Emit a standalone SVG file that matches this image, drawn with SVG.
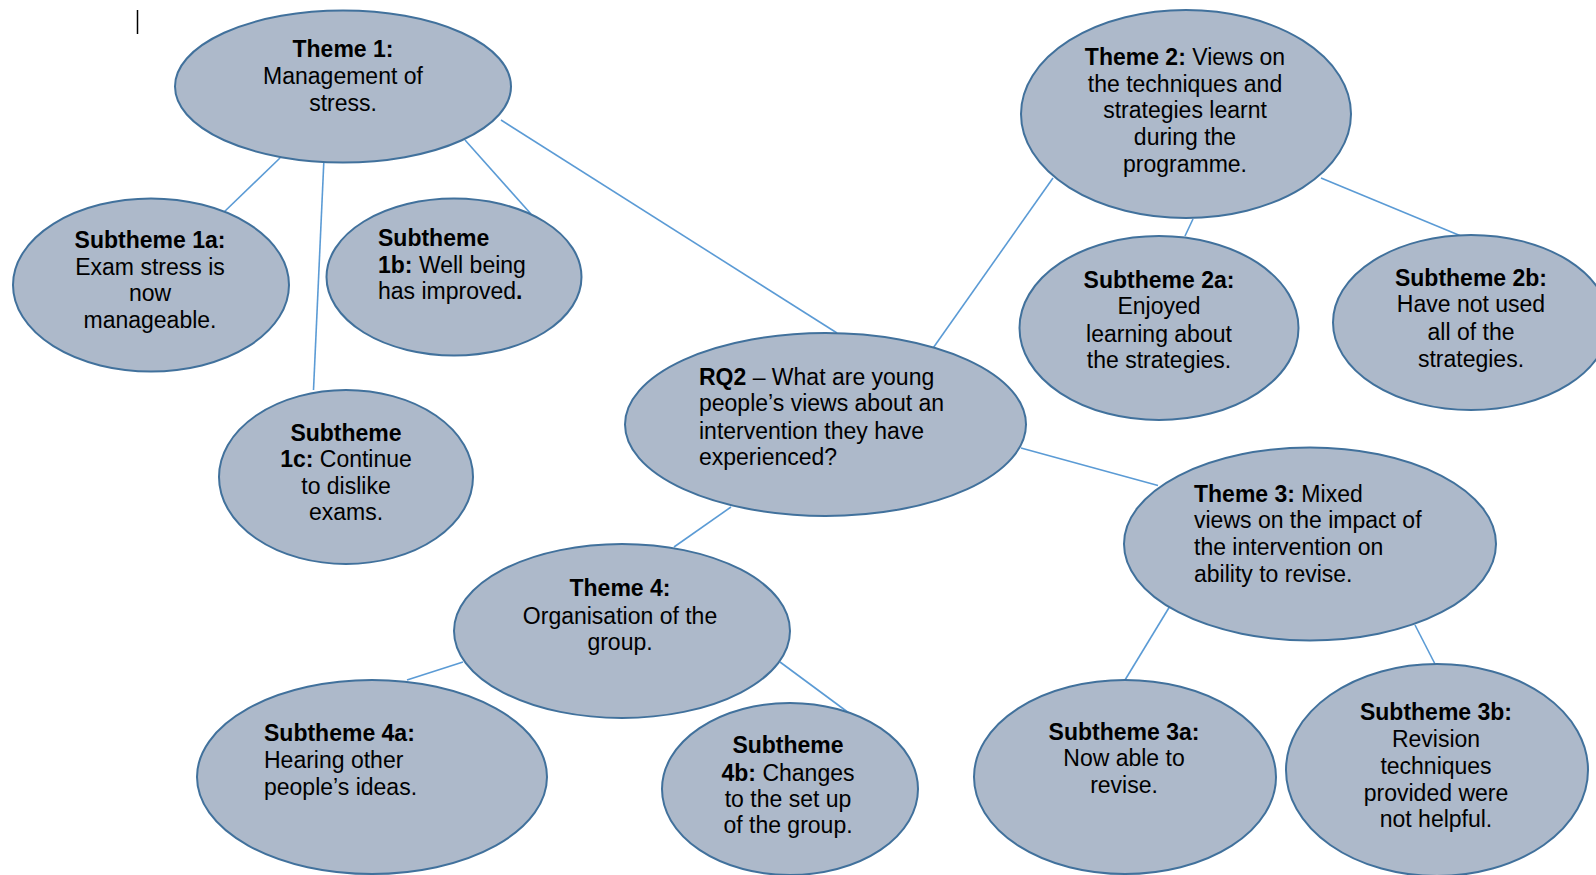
<svg xmlns="http://www.w3.org/2000/svg" width="1596" height="875" viewBox="0 0 1596 875">
<style>
.n{fill:#adb9ca;stroke:#41719c;stroke-width:2}
.c line{stroke:#5b9bd5;stroke-width:1.6}
text{font-family:"Liberation Sans",Arial,sans-serif;font-size:23px;fill:#000}
.m{text-anchor:middle}
.b{font-weight:bold}
</style>
<rect width="1596" height="875" fill="#fff"/>
<line x1="137.5" y1="10" x2="137.5" y2="34" stroke="#000" stroke-width="1.5"/>
<g id="connectors" class="c">
<line x1="280" y1="158" x2="222" y2="214"/>
<line x1="324" y1="158" x2="313.5" y2="390"/>
<line x1="465" y1="140" x2="531" y2="214"/>
<line x1="501" y1="120" x2="837" y2="333"/>
<line x1="1053" y1="178" x2="931" y2="351"/>
<line x1="1193" y1="219" x2="1185" y2="236"/>
<line x1="1321" y1="178" x2="1461" y2="236"/>
<line x1="1021" y1="448" x2="1158" y2="485.5"/>
<line x1="731" y1="507" x2="674" y2="547"/>
<line x1="463" y1="662" x2="407" y2="680"/>
<line x1="780" y1="662" x2="853" y2="716"/>
<line x1="1170" y1="606" x2="1125" y2="680"/>
<line x1="1415" y1="625" x2="1435" y2="664"/>
</g>
<g id="theme1">
<ellipse class="n" cx="343" cy="86.5" rx="168" ry="76"/>
<text class="m" x="343" y="57"><tspan class="b">Theme 1:</tspan></text>
<text class="m" x="343" y="84">Management of</text>
<text class="m" x="343" y="111">stress.</text>
</g>
<g id="sub1a">
<ellipse class="n" cx="151" cy="285" rx="138" ry="86.5"/>
<text class="m" x="150" y="248"><tspan class="b">Subtheme 1a:</tspan></text>
<text class="m" x="150" y="275">Exam stress is</text>
<text class="m" x="150" y="301">now</text>
<text class="m" x="150" y="328">manageable.</text>
</g>
<g id="sub1b">
<ellipse class="n" cx="454" cy="277" rx="127.5" ry="78.5"/>
<text x="378" y="246"><tspan class="b">Subtheme</tspan></text>
<text x="378" y="273"><tspan class="b">1b:</tspan> Well being</text>
<text x="378" y="299">has improved<tspan class="b">.</tspan></text>
</g>
<g id="sub1c">
<ellipse class="n" cx="346" cy="477" rx="127" ry="87"/>
<text class="m" x="346" y="441"><tspan class="b">Subtheme</tspan></text>
<text class="m" x="346" y="467"><tspan class="b">1c:</tspan> Continue</text>
<text class="m" x="346" y="494">to dislike</text>
<text class="m" x="346" y="520">exams.</text>
</g>
<g id="rq2">
<ellipse class="n" cx="825.5" cy="424.5" rx="200.5" ry="91.5"/>
<text x="699" y="385"><tspan class="b">RQ2</tspan> – What are young</text>
<text x="699" y="411">people’s views about an</text>
<text x="699" y="439">intervention they have</text>
<text x="699" y="465">experienced?</text>
</g>
<g id="theme2">
<ellipse class="n" cx="1186" cy="114" rx="165" ry="104"/>
<text class="m" x="1185" y="65"><tspan class="b">Theme 2:</tspan> Views on</text>
<text class="m" x="1185" y="91.5">the techniques and</text>
<text class="m" x="1185" y="118">strategies learnt</text>
<text class="m" x="1185" y="145">during the</text>
<text class="m" x="1185" y="172">programme.</text>
</g>
<g id="sub2a">
<ellipse class="n" cx="1159" cy="328" rx="139.5" ry="92"/>
<text class="m" x="1159" y="288"><tspan class="b">Subtheme 2a:</tspan></text>
<text class="m" x="1159" y="314">Enjoyed</text>
<text class="m" x="1159" y="342">learning about</text>
<text class="m" x="1159" y="368">the strategies.</text>
</g>
<g id="sub2b">
<ellipse class="n" cx="1471" cy="322.5" rx="138" ry="87.5"/>
<text class="m" x="1471" y="286"><tspan class="b">Subtheme 2b:</tspan></text>
<text class="m" x="1471" y="312">Have not used</text>
<text class="m" x="1471" y="340">all of the</text>
<text class="m" x="1471" y="367">strategies.</text>
</g>
<g id="theme3">
<ellipse class="n" cx="1310" cy="544" rx="186" ry="96.5"/>
<text x="1194" y="502"><tspan class="b">Theme 3:</tspan> Mixed</text>
<text x="1194" y="528">views on the impact of</text>
<text x="1194" y="555">the intervention on</text>
<text x="1194" y="582">ability to revise.</text>
</g>
<g id="theme4">
<ellipse class="n" cx="622" cy="631" rx="168" ry="87"/>
<text class="m" x="620" y="596"><tspan class="b">Theme 4:</tspan></text>
<text class="m" x="620" y="624">Organisation of the</text>
<text class="m" x="620" y="650">group.</text>
</g>
<g id="sub4a">
<ellipse class="n" cx="372" cy="777" rx="175" ry="97"/>
<text x="264" y="741"><tspan class="b">Subtheme 4a:</tspan></text>
<text x="264" y="768">Hearing other</text>
<text x="264" y="795">people’s ideas.</text>
</g>
<g id="sub4b">
<ellipse class="n" cx="790" cy="789" rx="128" ry="86"/>
<text class="m" x="788" y="753"><tspan class="b">Subtheme</tspan></text>
<text class="m" x="788" y="781"><tspan class="b">4b:</tspan> Changes</text>
<text class="m" x="788" y="807">to the set up</text>
<text class="m" x="788" y="833">of the group.</text>
</g>
<g id="sub3a">
<ellipse class="n" cx="1125" cy="777" rx="151" ry="97"/>
<text class="m" x="1124" y="740"><tspan class="b">Subtheme 3a:</tspan></text>
<text class="m" x="1124" y="766">Now able to</text>
<text class="m" x="1124" y="793">revise.</text>
</g>
<g id="sub3b">
<ellipse class="n" cx="1437" cy="770" rx="151" ry="106"/>
<text class="m" x="1436" y="720"><tspan class="b">Subtheme 3b:</tspan></text>
<text class="m" x="1436" y="747">Revision</text>
<text class="m" x="1436" y="774">techniques</text>
<text class="m" x="1436" y="801">provided were</text>
<text class="m" x="1436" y="827">not helpful.</text>
</g>
</svg>
